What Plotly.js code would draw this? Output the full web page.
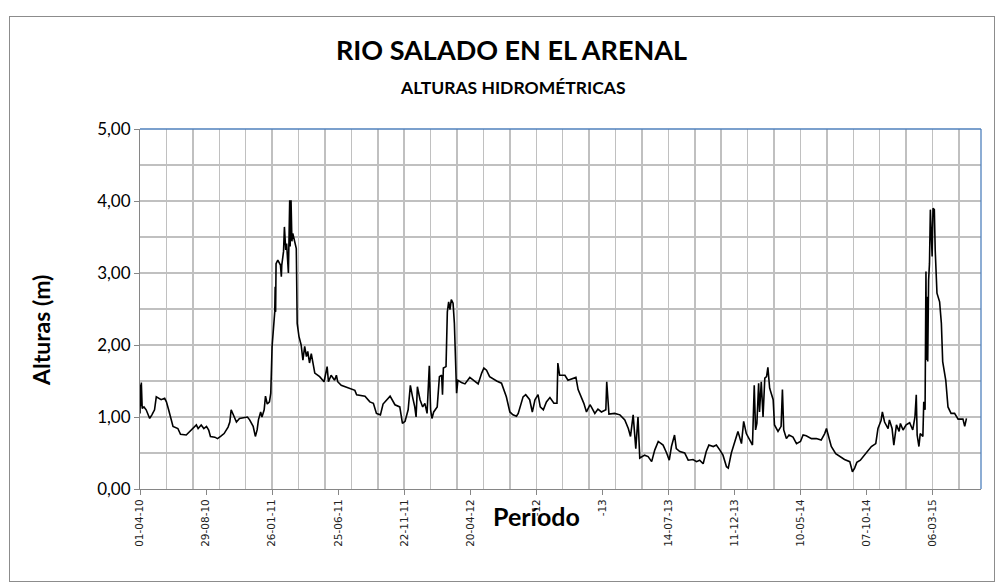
<!DOCTYPE html>
<html><head><meta charset="utf-8">
<script src="https://cdn.plot.ly/plotly-3.0.1.min.js"></script>
<style>
html,body{margin:0;padding:0;background:#fff}
#chart{width:1001px;height:588px}
#frame{position:absolute;left:9px;top:16px;width:984px;height:564px;border:1px solid #8c8c8c;pointer-events:none}
</style>
</head><body><div id="chart"></div><div id="frame"></div>
<script>
// Series: days elapsed since 01-04-2010 and gauge height (m)
const startDate = [2010, 3, 1];
const daysSinceStart = [
0,1,2,3,5,9,14,22,27,33,37,42,48,56,60,65,71,75,86,92,105,113,123,128,132,139,145,151,156,160,170,176,183,191,200,204,207,213,219,226,238,244,249,257,262,266,269,274,277,282,285,289,294,297,300,303,306,307,308,309,313,319,321,322,326,328,331,333,337,340,341,343,345,347,351,355,357,361,366,370,374,378,381,385,389,397,408,418,425,428,434,442,446,449,457,465,
477,488,492,511,522,530,537,546,552,568,579,590,596,602,609,614,619,624,627,630,636,642,647,652,657,660,663,667,675,680,685,687,689,695,698,701,704,707,711,714,719,722,730,738,749,758,768,776,781,787,794,810,821,832,840,847,855,859,870,876,885,891,897,904,909,916,923,931,940,947,949,953,
965,972,984,990,995,1003,1008,1014,1022,1025,1033,1040,1048,1058,1060,1065,1078,1090,1101,1109,1114,1120,1126,1131,1135,1146,1154,1162,1169,1177,1188,1196,1202,1207,1214,1218,1226,1237,1245,1256,1264,1271,1279,1286,1292,1302,1309,1317,1324,1332,1336,1343,1351,1358,1366,1371,1377,1385,1391,1395,1398,1401,1405,1407,1411,1415,1419,1423,1426,
1430,1438,1441,1449,1456,1459,1462,1468,1474,1483,1491,1500,1506,1513,1525,1536,1547,1555,1559,1565,1570,1580,1589,1600,1612,1618,1623,1628,1636,1643,1653,1661,1671,1676,1683,1686,1691,1699,1702,1708,1712,1718,1724,1727,1733,1740,1748,1755,1760,1763,1765,1769,1772,1778,1780,1783,1785,1786,1788,1789,1791,1793,1795,1799,1801,1804,1806,1810,1816,1820,1823,1830,1835,1842,1850,1858,1869,1873,1877
];
const alturas = [
1.05,1.45,1.15,1.48,1.12,1.14,1.10,0.98,1.03,1.10,1.28,1.26,1.24,1.26,1.21,1.10,0.96,0.87,0.84,0.76,0.75,0.80,0.87,0.89,0.84,0.89,0.84,0.87,0.82,0.73,0.72,0.70,0.73,0.77,0.86,0.93,1.10,1.00,0.93,0.98,0.99,1.00,0.96,0.87,0.73,0.82,0.96,1.07,1.00,1.10,1.29,1.18,1.21,1.33,1.98,2.21,2.46,2.81,2.46,3.13,3.18,3.11,2.95,3.11,3.30,3.64,3.32,3.41,3.00,4.01,3.37,4.01,3.44,3.55,3.46,3.34,2.30,2.12,2.00,1.79,1.98,1.84,1.91,1.75,1.88,1.61,1.56,1.49,1.70,1.49,1.58,1.51,1.58,1.49,1.44,1.42,
1.39,1.37,1.31,1.29,1.21,1.19,1.05,1.03,1.18,1.29,1.17,1.14,0.91,0.94,1.10,1.44,1.28,1.14,1.00,1.42,1.24,1.14,1.19,1.05,1.71,1.10,0.98,1.07,1.14,1.56,1.58,1.31,1.68,1.70,2.46,2.60,2.49,2.63,2.58,2.30,1.33,1.51,1.48,1.46,1.55,1.51,1.46,1.61,1.68,1.65,1.56,1.50,1.47,1.28,1.07,1.03,1.01,1.05,1.28,1.31,1.24,1.07,1.24,1.31,1.14,1.10,1.21,1.27,1.19,1.19,1.75,1.58,
1.58,1.51,1.54,1.55,1.38,1.26,1.19,1.07,1.17,1.14,1.05,1.11,1.07,1.10,1.49,1.04,1.05,1.03,0.96,0.84,0.73,1.03,0.56,1.00,0.43,0.47,0.45,0.38,0.54,0.66,0.61,0.50,0.40,0.59,0.75,0.56,0.52,0.50,0.40,0.41,0.38,0.40,0.35,0.52,0.61,0.59,0.61,0.54,0.47,0.31,0.29,0.50,0.66,0.80,0.63,0.94,0.77,0.68,0.61,1.44,0.82,0.91,1.47,1.07,1.49,1.00,1.54,1.56,1.69,
1.40,1.24,0.89,0.80,0.87,1.38,0.82,0.70,0.75,0.72,0.63,0.66,0.75,0.74,0.70,0.70,0.68,0.77,0.84,0.70,0.59,0.49,0.45,0.41,0.38,0.24,0.29,0.37,0.40,0.45,0.52,0.59,0.63,0.84,0.95,1.07,0.93,0.84,0.96,0.84,0.61,0.89,0.80,0.91,0.82,0.89,0.92,0.82,1.00,1.31,0.75,0.59,0.77,0.73,1.21,1.10,3.02,1.79,2.67,1.77,2.90,3.13,3.88,3.23,3.90,3.88,3.32,2.72,2.60,2.30,1.77,1.51,1.14,1.05,1.05,0.97,0.97,0.87,0.98
];
// Date tick labels, every 150 days from start (as printed in the original)
const tickDays = [0,150,300,450,600,750,900,1050,1200,1350,1500,1650,1800];
const tickLabels = ['01-04-10','29-08-10','26-01-11','25-06-11','22-11-11','20-04-12','-12','-13','14-07-13','11-12-13','10-05-14','07-10-14','06-03-15'];
const axisEndDays = 1910;
const gridStepDays = 60;

const DAY = 86400000;
const t0 = Date.UTC(startDate[0], startDate[1], startDate[2]);
const toDate = d => new Date(t0 + d * DAY).toISOString().slice(0, 10);

const xDates = daysSinceStart.map(toDate);
const range = [toDate(0), toDate(axisEndDays)];
const GRID = '#c0c0c0';
const FONT = 'Lato, "Open Sans", sans-serif';

const trace = {
  x: xDates, y: alturas, type: 'scatter', mode: 'lines',
  line: {color: '#000000', width: 1.6}, hoverinfo: 'x+y', showlegend: false
};

const layout = {
  width: 1001, height: 588,
  margin: {l: 140, r: 20, t: 129, b: 99},
  paper_bgcolor: '#ffffff', plot_bgcolor: '#ffffff',
  separators: ',.',
  showlegend: false,
  title: {
    text: 'RIO SALADO EN EL ARENAL',
    font: {family: FONT, size: 27, color: '#000', weight: 'bold'},
    x: 0.511, xref: 'container', xanchor: 'center',
    y: 1 - 51/588, yref: 'container', yanchor: 'middle'
  },
  xaxis: {
    type: 'date', range: range,
    tickmode: 'array', tickvals: tickDays.map(toDate), ticktext: tickLabels,
    tickangle: -90, ticks: 'outside', ticklen: 5, tickcolor: '#868686',
    tickfont: {family: '"DejaVu Sans", Verdana, sans-serif', size: 10.5, color: '#222'},
    showgrid: false, zeroline: false,
    minor: {tickmode: 'linear', tick0: toDate(0), dtick: gridStepDays * DAY,
            showgrid: true, gridcolor: GRID, gridwidth: 1.5, ticks: ''},
    showline: true, linecolor: '#868686', linewidth: 1,
    fixedrange: true
  },
  yaxis: {
    range: [0, 5], dtick: 1, tickformat: '.2f',
    ticks: 'outside', ticklen: 5, tickcolor: '#868686',
    tickfont: {family: FONT, size: 17, color: '#000'},
    showgrid: true, gridcolor: GRID, gridwidth: 1.5,
    minor: {dtick: 0.5, showgrid: true, gridcolor: GRID, gridwidth: 1.5, ticks: ''},
    zeroline: false, showline: true, linecolor: '#868686', linewidth: 1,
    fixedrange: true
  },
  shapes: [
    {type: 'line', xref: 'paper', yref: 'paper', x0: 0, x1: 1, y0: 1, y1: 1, line: {color: '#4f81bd', width: 1.3}},
    {type: 'line', xref: 'paper', yref: 'paper', x0: 1, x1: 1, y0: 0, y1: 1, line: {color: '#4f81bd', width: 1.3}}
  ],
  annotations: [
    {text: 'ALTURAS HIDROMÉTRICAS', xref: 'paper', yref: 'paper', x: (513-140)/841, y: (489-88)/360,
     xanchor: 'center', yanchor: 'middle', showarrow: false,
     font: {family: FONT, size: 17.5, color: '#000', weight: 'bold'}},
    {text: 'Alturas (m)', xref: 'paper', yref: 'paper', x: (41-140)/841, y: (489-331)/360, textangle: -90,
     xanchor: 'center', yanchor: 'middle', showarrow: false,
     font: {family: FONT, size: 23, color: '#000', weight: 'bold'}},
    {text: 'Período', xref: 'paper', yref: 'paper', x: (536-140)/841, y: (489-516)/360,
     xanchor: 'center', yanchor: 'middle', showarrow: false,
     font: {family: FONT, size: 25, color: '#000', weight: 'bold'}}
  ]
};

Plotly.newPlot('chart', [trace], layout, {displayModeBar: false, staticPlot: true});
</script>
</body></html>
